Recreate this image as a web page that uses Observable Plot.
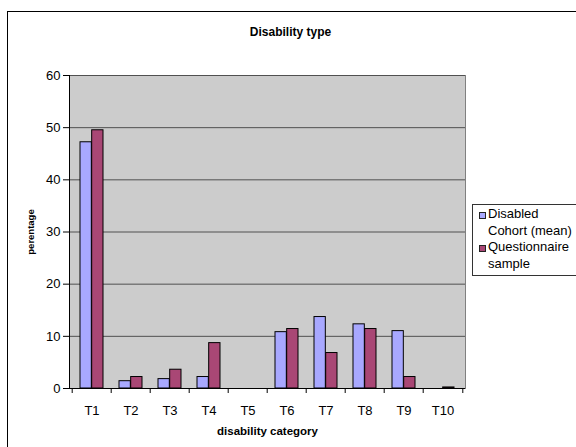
<!DOCTYPE html>
<html>
<head>
<meta charset="utf-8">
<script src="https://cdn.jsdelivr.net/npm/d3@7"></script>
<script src="https://cdn.jsdelivr.net/npm/@observablehq/plot@0.6"></script>
<style>
  html, body { margin: 0; padding: 0; background: #fff; overflow: hidden; }
  #wrap { position: relative; width: 576px; height: 447px; overflow: hidden; font-family: "Liberation Sans", Arial, sans-serif; }
  #outer { position: absolute; left: 7px; top: 11px; width: 600px; height: 480px; border: 1px solid #000; box-sizing: border-box; }
  #chart { position: absolute; left: 0; top: 0; }
  #legend { position: absolute; left: 472px; top: 204px; width: 130px; height: 72px; border: 1px solid #333; background: #fff; box-sizing: border-box; padding-top: 1px; }
  .item { position: relative; padding-left: 15px; width: 88px; font-size: 13px; line-height: 16.5px; color: #000; }
  .sw { position: absolute; left: 6px; top: 6px; width: 5px; height: 5px; border: 1px solid #222; }
</style>
</head>
<body>
<div id="wrap">
  <div id="outer"></div>
  <div id="chart"></div>
  <div id="legend"></div>
</div>
<script>
const categories = ["T1", "T2", "T3", "T4", "T5", "T6", "T7", "T8", "T9", "T10"];
const cohortMean = [47.2, 1.4, 1.8, 2.2, 0, 10.8, 13.7, 12.3, 11.0, 0];
const questionnaire = [49.5, 2.2, 3.6, 8.7, 0, 11.4, 6.8, 11.4, 2.2, 0.2];
const seriesNames = ["Disabled Cohort (mean)", "Questionnaire sample"];
const seriesColors = ["#a8a8ff", "#a94775"];
const yTicks = [0, 10, 20, 30, 40, 50, 60];
const titleText = "Disability type";
const xLabel = "disability category";
const yLabel = "perentage";

const W = 576, H = 447;
const mL = 69, mR = 111, mT = 75, mB = 59;
const step = (W - mL - mR) / categories.length;
const band = step * (1 - 0.41);
const half = band / 2;

const cohortData = categories.map((c, i) => ({cat: c, v: cohortMean[i]})).filter(d => d.v > 0);
const questData = categories.map((c, i) => ({cat: c, v: questionnaire[i]})).filter(d => d.v > 0);

const chart = Plot.plot({
  width: W,
  height: H,
  marginLeft: mL,
  marginRight: mR,
  marginTop: mT,
  marginBottom: mB,
  style: {fontFamily: "'Liberation Sans', Arial, sans-serif", fontSize: "13px", background: "transparent", color: "#000"},
  x: {type: "band", domain: categories, paddingInner: 0.41, paddingOuter: 0.205, axis: null},
  y: {domain: [0, 60], axis: null},
  marks: [
    Plot.frame({fill: "#cccccc", stroke: "#808080"}),
    Plot.gridY(yTicks.filter(t => t > 0), {stroke: "#505050", strokeOpacity: 1, strokeWidth: 1}),
    Plot.barY(cohortData, {x: "cat", y: "v", fill: seriesColors[0], stroke: "#000", strokeWidth: 1, insetRight: half}),
    Plot.barY(questData, {x: "cat", y: "v", fill: seriesColors[1], stroke: "#000", strokeWidth: 1, insetLeft: half}),
    Plot.frame({anchor: "left", stroke: "#000"}),
    Plot.ruleY([0], {stroke: "#000"}),
    Plot.ruleX(categories, {x: d => d, dx: -step / 2, y1: 0, y2: 0, insetBottom: -5, stroke: "#000"}),
    Plot.ruleX(categories.slice(-1), {x: d => d, dx: step / 2, y1: 0, y2: 0, insetBottom: -5, stroke: "#000"}),
    Plot.axisY({ticks: yTicks, tickSize: 6, tickPadding: 3, label: null, fontSize: 13}),
    Plot.axisX({tickSize: 0, tickPadding: 17, label: null, fontSize: 13}),
    Plot.text([yLabel], {frameAnchor: "left", rotate: -90, dx: -39, textAnchor: "middle", fontWeight: "bold", fontSize: 9.5, lineAnchor: "middle"}),
    Plot.text([xLabel], {frameAnchor: "bottom", dy: 43, fontWeight: "bold", fontSize: 11.5, lineAnchor: "middle"}),
    Plot.text([titleText], {frameAnchor: "top", dx: 23, dy: -43, fontWeight: "bold", fontSize: 12, lineAnchor: "middle"})
  ]
});
document.getElementById("chart").appendChild(chart);

const legend = document.getElementById("legend");
seriesNames.forEach((name, i) => {
  const item = document.createElement("div");
  item.className = "item";
  const sw = document.createElement("span");
  sw.className = "sw";
  sw.style.background = seriesColors[i];
  item.appendChild(sw);
  item.appendChild(document.createTextNode(name));
  legend.appendChild(item);
});
</script>
</body>
</html>
